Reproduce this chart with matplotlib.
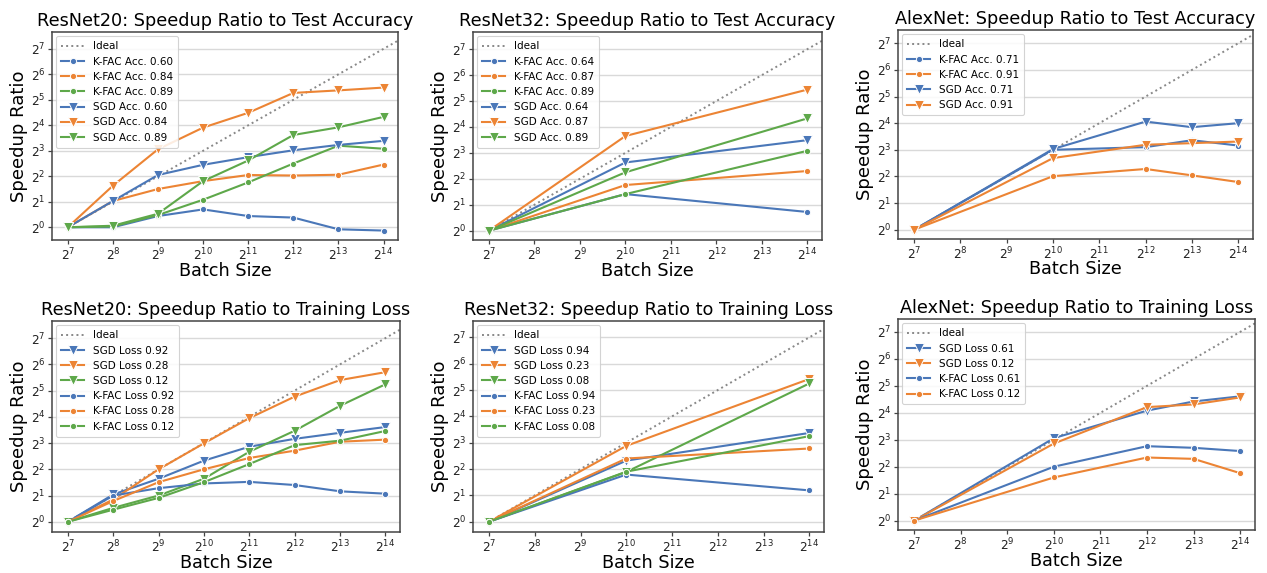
import numpy as np
import matplotlib
matplotlib.use("Agg")
import matplotlib.pyplot as plt

# ---------------- data (speedup ratios, read as powers of two) ----------------
bs_full = [2**7, 2**8, 2**9, 2**10, 2**11, 2**12, 2**13, 2**14]
bs_r32 = [2**7, 2**10, 2**14]
bs_alex = [2**7, 2**10, 2**12, 2**13, 2**14]

# ResNet20 test accuracy
r20_acc_kfac_060 = [2**0, 2**0.0, 2**0.44, 2**0.70, 2**0.44, 2**0.38, 2**-0.08, 2**-0.13]
r20_acc_kfac_084 = [2**0, 2**1.03, 2**1.50, 2**1.81, 2**2.05, 2**2.03, 2**2.06, 2**2.46]
r20_acc_kfac_089 = [2**0, 2**0.03, 2**0.48, 2**1.08, 2**1.76, 2**2.50, 2**3.20, 2**3.08]
r20_acc_sgd_060 = [2**0, 2**1.03, 2**2.05, 2**2.45, 2**2.75, 2**3.02, 2**3.23, 2**3.39]
r20_acc_sgd_084 = [2**0, 2**1.63, 2**3.06, 2**3.91, 2**4.49, 2**5.27, 2**5.37, 2**5.48]
r20_acc_sgd_089 = [2**0, 2**0.06, 2**0.53, 2**1.81, 2**2.62, 2**3.62, 2**3.92, 2**4.33]

# ResNet32 test accuracy
r32_acc_kfac_064 = [2**0, 2**1.41, 2**0.72]
r32_acc_kfac_087 = [2**0, 2**1.76, 2**2.30]
r32_acc_kfac_089 = [2**0, 2**1.41, 2**3.08]
r32_acc_sgd_064 = [2**0, 2**2.63, 2**3.49]
r32_acc_sgd_087 = [2**0, 2**3.65, 2**5.44]
r32_acc_sgd_089 = [2**0, 2**2.25, 2**4.33]

# AlexNet test accuracy
alex_acc_kfac_071 = [2**0, 2**3.0, 2**3.10, 2**3.36, 2**3.16]
alex_acc_kfac_091 = [2**0, 2**2.01, 2**2.28, 2**2.04, 2**1.79]
alex_acc_sgd_071 = [2**0, 2**3.03, 2**4.06, 2**3.85, 2**4.0]
alex_acc_sgd_091 = [2**0, 2**2.69, 2**3.19, 2**3.25, 2**3.31]

# ResNet20 training loss
r20_loss_sgd_092 = [2**0, 2**1.04, 2**1.64, 2**2.33, 2**2.86, 2**3.16, 2**3.39, 2**3.61]
r20_loss_sgd_028 = [2**0, 2**0.85, 2**2.00, 2**2.99, 2**3.95, 2**4.77, 2**5.40, 2**5.70]
r20_loss_sgd_012 = [2**0, 2**0.53, 2**1.00, 2**1.64, 2**2.67, 2**3.47, 2**4.42, 2**5.24]
r20_loss_kfac_092 = [2**0, 2**1.00, 2**1.28, 2**1.46, 2**1.52, 2**1.40, 2**1.16, 2**1.07]
r20_loss_kfac_028 = [2**0, 2**0.79, 2**1.51, 2**2.00, 2**2.43, 2**2.71, 2**3.05, 2**3.13]
r20_loss_kfac_012 = [2**0, 2**0.46, 2**0.91, 2**1.51, 2**2.20, 2**2.92, 2**3.09, 2**3.46]

# ResNet32 training loss
r32_loss_sgd_094 = [2**0, 2**2.32, 2**3.37]
r32_loss_sgd_023 = [2**0, 2**2.88, 2**5.42]
r32_loss_sgd_008 = [2**0, 2**1.89, 2**5.25]
r32_loss_kfac_094 = [2**0, 2**1.79, 2**1.19]
r32_loss_kfac_023 = [2**0, 2**2.40, 2**2.78]
r32_loss_kfac_008 = [2**0, 2**1.90, 2**3.25]

# AlexNet training loss
alex_loss_sgd_061 = [2**0, 2**3.06, 2**4.08, 2**4.42, 2**4.61]
alex_loss_sgd_012 = [2**0, 2**2.86, 2**4.21, 2**4.31, 2**4.57]
alex_loss_kfac_061 = [2**0, 2**2.00, 2**2.76, 2**2.70, 2**2.58]
alex_loss_kfac_012 = [2**0, 2**1.60, 2**2.34, 2**2.29, 2**1.76]

BLUE = "#4a77b8"
ORANGE = "#ec8434"
GREEN = "#5ea84a"

W, H = 1267, 573
fig = plt.figure(figsize=(W / 100, H / 100), dpi=100)


def make_ax(x0, y0, x1, y1):
    return fig.add_axes([x0 / W, 1 - y1 / H, (x1 - x0) / W, (y1 - y0) / H])


def style(ax, title, ylim, axh):
    ax.set_xscale("log", base=2)
    ax.set_yscale("log", base=2)
    ax.set_xlim(2**6.65, 2**14.32)
    ax.set_ylim(2**ylim[0], 2**ylim[1])
    ax.set_xticks([2**k for k in range(7, 15)])
    ax.set_yticks([2**k for k in range(0, 8)])
    ax.xaxis.set_minor_locator(matplotlib.ticker.NullLocator())
    ax.yaxis.set_minor_locator(matplotlib.ticker.NullLocator())
    ax.grid(axis="y", color="#d9d9d9", lw=1.0)
    ax.grid(axis="x", visible=False)
    ax.set_axisbelow(True)
    for s in ax.spines.values():
        s.set_color("#444444")
        s.set_linewidth(1.1)
    ax.tick_params(axis="both", which="major", labelsize=8.7, length=3,
                   width=0.9, color="#444444", labelcolor="#222222", pad=1.5)
    ax.set_title(title, fontsize=12.7, pad=4)
    ax.set_xlabel("Batch Size", fontsize=12.7, va="top")
    ax.xaxis.set_label_coords(0.5, -21.5 / axh)
    ax.set_ylabel("Speedup Ratio", fontsize=13, labelpad=2)


def ideal(ax):
    xs = np.array([2**7, 2**14.32])
    ax.plot(xs, xs / 2**7, ls=":", color="#888888", lw=1.4, label="Ideal", zorder=1)


def line(ax, x, y, color, marker, label):
    ms = 4.5 if marker == "o" else 7.5
    ax.plot(x, y, color=color, marker=marker, ms=ms, mec="white", mew=0.7,
            lw=1.5, label=label, zorder=3)


def legend(ax):
    leg = ax.legend(loc="upper left", fontsize=7.5, frameon=True, fancybox=True,
                    borderpad=0.5, labelspacing=0.5, handlelength=2.2,
                    handletextpad=0.8, borderaxespad=0.4)
    leg.get_frame().set_edgecolor("#cccccc")
    leg.get_frame().set_linewidth(0.8)
    leg.get_frame().set_alpha(0.85)


# Panel 1
ax = make_ax(52, 32, 398, 240)
style(ax, "ResNet20: Speedup Ratio to Test Accuracy", (-0.5, 7.66), 208)
ideal(ax)
line(ax, bs_full, r20_acc_kfac_060, BLUE, "o", "K-FAC Acc. 0.60")
line(ax, bs_full, r20_acc_kfac_084, ORANGE, "o", "K-FAC Acc. 0.84")
line(ax, bs_full, r20_acc_kfac_089, GREEN, "o", "K-FAC Acc. 0.89")
line(ax, bs_full, r20_acc_sgd_060, BLUE, "v", "SGD Acc. 0.60")
line(ax, bs_full, r20_acc_sgd_084, ORANGE, "v", "SGD Acc. 0.84")
line(ax, bs_full, r20_acc_sgd_089, GREEN, "v", "SGD Acc. 0.89")
legend(ax)

# Panel 2
ax = make_ax(473, 32, 822, 240)
style(ax, "ResNet32: Speedup Ratio to Test Accuracy", (-0.36, 7.66), 208)
ideal(ax)
line(ax, bs_r32, r32_acc_kfac_064, BLUE, "o", "K-FAC Acc. 0.64")
line(ax, bs_r32, r32_acc_kfac_087, ORANGE, "o", "K-FAC Acc. 0.87")
line(ax, bs_r32, r32_acc_kfac_089, GREEN, "o", "K-FAC Acc. 0.89")
line(ax, bs_r32, r32_acc_sgd_064, BLUE, "v", "SGD Acc. 0.64")
line(ax, bs_r32, r32_acc_sgd_087, ORANGE, "v", "SGD Acc. 0.87")
line(ax, bs_r32, r32_acc_sgd_089, GREEN, "v", "SGD Acc. 0.89")
legend(ax)

# Panel 3
ax = make_ax(898, 30, 1253, 239)
style(ax, "AlexNet: Speedup Ratio to Test Accuracy", (-0.35, 7.5), 209)
ideal(ax)
line(ax, bs_alex, alex_acc_kfac_071, BLUE, "o", "K-FAC Acc. 0.71")
line(ax, bs_alex, alex_acc_kfac_091, ORANGE, "o", "K-FAC Acc. 0.91")
line(ax, bs_alex, alex_acc_sgd_071, BLUE, "v", "SGD Acc. 0.71")
line(ax, bs_alex, alex_acc_sgd_091, ORANGE, "v", "SGD Acc. 0.91")
legend(ax)

# Panel 4
ax = make_ax(52, 321, 400, 532)
style(ax, "ResNet20: Speedup Ratio to Training Loss", (-0.39, 7.65), 211)
ideal(ax)
line(ax, bs_full, r20_loss_sgd_092, BLUE, "v", "SGD Loss 0.92")
line(ax, bs_full, r20_loss_sgd_028, ORANGE, "v", "SGD Loss 0.28")
line(ax, bs_full, r20_loss_sgd_012, GREEN, "v", "SGD Loss 0.12")
line(ax, bs_full, r20_loss_kfac_092, BLUE, "o", "K-FAC Loss 0.92")
line(ax, bs_full, r20_loss_kfac_028, ORANGE, "o", "K-FAC Loss 0.28")
line(ax, bs_full, r20_loss_kfac_012, GREEN, "o", "K-FAC Loss 0.12")
legend(ax)

# Panel 5
ax = make_ax(473, 321, 824, 532)
style(ax, "ResNet32: Speedup Ratio to Training Loss", (-0.39, 7.62), 211)
ideal(ax)
line(ax, bs_r32, r32_loss_sgd_094, BLUE, "v", "SGD Loss 0.94")
line(ax, bs_r32, r32_loss_sgd_023, ORANGE, "v", "SGD Loss 0.23")
line(ax, bs_r32, r32_loss_sgd_008, GREEN, "v", "SGD Loss 0.08")
line(ax, bs_r32, r32_loss_kfac_094, BLUE, "o", "K-FAC Loss 0.94")
line(ax, bs_r32, r32_loss_kfac_023, ORANGE, "o", "K-FAC Loss 0.23")
line(ax, bs_r32, r32_loss_kfac_008, GREEN, "o", "K-FAC Loss 0.08")
legend(ax)

# Panel 6
ax = make_ax(898, 319, 1255, 530)
style(ax, "AlexNet: Speedup Ratio to Training Loss", (-0.35, 7.48), 211)
ideal(ax)
line(ax, bs_alex, alex_loss_sgd_061, BLUE, "v", "SGD Loss 0.61")
line(ax, bs_alex, alex_loss_sgd_012, ORANGE, "v", "SGD Loss 0.12")
line(ax, bs_alex, alex_loss_kfac_061, BLUE, "o", "K-FAC Loss 0.61")
line(ax, bs_alex, alex_loss_kfac_012, ORANGE, "o", "K-FAC Loss 0.12")
legend(ax)

fig.savefig("out.png", dpi=100, facecolor="white")
